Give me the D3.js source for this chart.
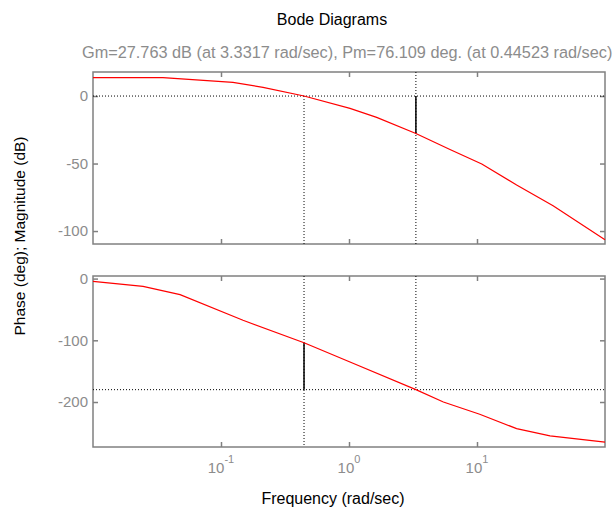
<!DOCTYPE html>
<html lang="en">

<head>
    <meta charset="UTF-8">
    <title>Bode Diagrams</title>
    <script src="https://d3js.org/d3.v7.min.js"></script>
    <style>
        body {
            margin: 0;
            background: #fff;
        }

        svg text {
            font-family: "Liberation Sans", Arial, Helvetica, sans-serif;
        }

        .tick line {
            stroke: #808080;
            stroke-width: 1.5;
        }

        .tick text {
            fill: #8c8c8c;
            font-size: 15px;
        }
    </style>
</head>

<body>
    <div id="chart"></div>

    <script>
        // Magnitude curve
        const magFreq = [0.01, 0.0352, 0.124, 0.213, 0.44523, 1.018, 1.645, 3.3317, 6.15, 10.9, 20.4, 39.3, 100];
        const magDb = [13.6, 13.6, 10.1, 6.4, 0, -9.1, -15.8, -27.763, -39.6, -50.4, -65.9, -81.3, -106.5];

        // Phase curve
        const phaseFreq = [0.01, 0.0246, 0.0479, 0.1486, 0.44523, 1.018, 3.3317, 5.46, 10.5, 20.4, 37.2, 100];
        const phaseDeg = [-4.4, -12.5, -25.9, -67.6, -103.891, -135.2, -180, -200, -219.9, -243.1, -255, -265];

        // Stability margins
        const gm = 27.763, wg = 3.3317;
        const pm = 76.109, wc = 0.44523;

        const xTicks = [0.1, 1, 10];
        const magTicks = [0, -50, -100];
        const phaseTicks = [0, -100, -200];

        const width = 613, height = 508;
        const left = 93, right = 605;

        const svg = d3.select("#chart")
            .append("svg")
            .attr("width", width)
            .attr("height", height);

        const x = d3.scaleLog().domain([0.01, 100]).range([left, right]);
        const yMag = d3.scaleLinear().domain([-109.6, 17.8]).range([244, 72]);
        const yPhase = d3.scaleLinear().domain([-272.9, 4.2]).range([447, 276]);

        // Draw one axes box with inward ticks on all sides
        function drawPanel(y, yTicks, showX) {
            const top = y.range()[1], bottom = y.range()[0];
            const g = svg.append("g");

            g.append("g").attr("transform", `translate(0,${bottom})`)
                .call(d3.axisBottom(x).tickValues(xTicks).tickSize(-5).tickFormat(""));
            g.append("g").attr("transform", `translate(0,${top})`)
                .call(d3.axisTop(x).tickValues(xTicks).tickSize(-5).tickFormat(""));
            g.append("g").attr("transform", `translate(${left},0)`)
                .call(d3.axisLeft(y).tickValues(yTicks).tickSize(-5).tickPadding(5).tickFormat(d => String(d)));
            g.append("g").attr("transform", `translate(${right},0)`)
                .call(d3.axisRight(y).tickValues(yTicks).tickSize(-5).tickFormat(""));
            g.selectAll(".domain").remove();

            if (showX) {
                const lab = g.selectAll(".xlab")
                    .data(xTicks)
                    .enter().append("text")
                    .attr("x", d => x(d))
                    .attr("y", bottom + 26)
                    .attr("text-anchor", "middle")
                    .attr("fill", "#8c8c8c")
                    .attr("font-size", 15);
                lab.append("tspan").text("10");
                lab.append("tspan")
                    .attr("dy", -10)
                    .attr("font-size", 11)
                    .text(d => String(Math.round(Math.log10(d))));
            }

            g.append("rect")
                .attr("x", left).attr("y", top)
                .attr("width", right - left).attr("height", bottom - top)
                .attr("fill", "none")
                .attr("stroke", "#808080")
                .attr("stroke-width", 1.5);
            return g;
        }

        function dotted(g, x1, y1, x2, y2) {
            g.append("line")
                .attr("x1", x1).attr("y1", y1).attr("x2", x2).attr("y2", y2)
                .attr("stroke", "#000")
                .attr("stroke-width", 1)
                .attr("stroke-dasharray", "1,2");
        }

        function stem(g, xv, y1, y2) {
            g.append("line")
                .attr("x1", xv).attr("y1", y1).attr("x2", xv).attr("y2", y2)
                .attr("stroke", "#000")
                .attr("stroke-width", 1.5);
        }

        // Magnitude panel
        const gMag = drawPanel(yMag, magTicks, false);
        dotted(gMag, left, yMag(0), right, yMag(0));
        dotted(gMag, x(wc), yMag(0), x(wc), yMag.range()[0]);
        dotted(gMag, x(wg), yMag.range()[1], x(wg), yMag.range()[0]);
        stem(gMag, x(wg), yMag(0), yMag(-gm));

        gMag.append("path")
            .datum(d3.zip(magFreq, magDb))
            .attr("fill", "none")
            .attr("stroke", "#ff0000")
            .attr("stroke-width", 1.2)
            .attr("d", d3.line().x(d => x(d[0])).y(d => yMag(d[1])));

        // Phase panel
        const gPh = drawPanel(yPhase, phaseTicks, true);
        dotted(gPh, left, yPhase(-180), right, yPhase(-180));
        dotted(gPh, x(wc), yPhase.range()[1], x(wc), yPhase.range()[0]);
        dotted(gPh, x(wg), yPhase.range()[1], x(wg), yPhase(-180));
        stem(gPh, x(wc), yPhase(-180), yPhase(-180 + pm));

        gPh.append("path")
            .datum(d3.zip(phaseFreq, phaseDeg))
            .attr("fill", "none")
            .attr("stroke", "#ff0000")
            .attr("stroke-width", 1.2)
            .attr("d", d3.line().x(d => x(d[0])).y(d => yPhase(d[1])));

        // Titles and labels
        svg.append("text")
            .attr("x", 332).attr("y", 25)
            .attr("text-anchor", "middle")
            .attr("font-size", 16)
            .attr("fill", "#000")
            .text("Bode Diagrams");

        svg.append("text")
            .attr("x", 82).attr("y", 58)
            .attr("font-size", 16.3)
            .attr("fill", "#8c8c8c")
            .text(`Gm=${gm} dB (at ${wg} rad/sec), Pm=${pm} deg. (at ${wc} rad/sec)`);

        svg.append("text")
            .attr("x", 333).attr("y", 504)
            .attr("text-anchor", "middle")
            .attr("font-size", 16)
            .attr("fill", "#000")
            .text("Frequency (rad/sec)");

        svg.append("text")
            .attr("transform", "translate(25,236) rotate(-90)")
            .attr("text-anchor", "middle")
            .attr("font-size", 15.5)
            .attr("fill", "#000")
            .text("Phase (deg); Magnitude (dB)");
    </script>
</body>

</html>
